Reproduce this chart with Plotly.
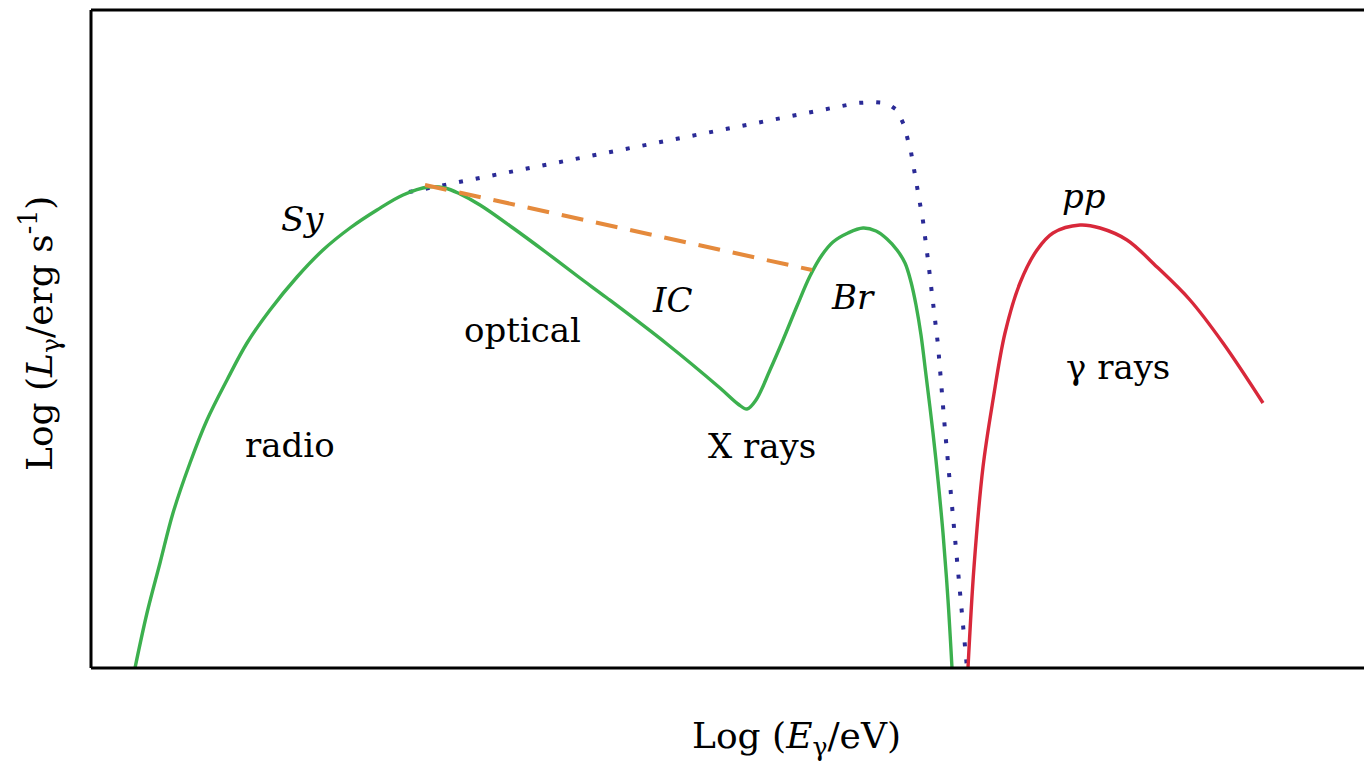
import plotly.graph_objects as go

# ---- data (arbitrary log units) ----
sy_x = [0.44, 0.56, 0.69, 0.82, 0.99, 1.16, 1.36, 1.56, 1.79, 2.06, 2.32, 2.59, 2.86, 3.12, 3.37,
        3.54, 3.69, 3.89, 4.22, 4.56, 4.89, 5.16, 5.76, 6.29, 6.47, 6.56, 6.65, 6.79, 6.92, 7.06,
        7.19, 7.31, 7.42, 7.57, 7.72, 7.85, 7.96, 8.06, 8.14, 8.20, 8.25, 8.30, 8.35, 8.42, 8.47,
        8.52, 8.57, 8.61]
sy_y = [0.00, 0.55, 1.05, 1.55, 2.05, 2.48, 2.88, 3.25, 3.58, 3.91, 4.18, 4.40, 4.58, 4.73, 4.81,
        4.80, 4.74, 4.63, 4.40, 4.15, 3.90, 3.70, 3.24, 2.80, 2.64, 2.59, 2.68, 2.98, 3.28, 3.62,
        3.92, 4.13, 4.26, 4.35, 4.40, 4.37, 4.29, 4.18, 4.05, 3.86, 3.63, 3.33, 2.93, 2.35, 1.88,
        1.35, 0.68, 0.00]

dot_x = [3.18, 7.49, 7.66, 7.83, 7.96, 8.06, 8.13, 8.20, 8.26, 8.32, 8.37, 8.42, 8.47, 8.54, 8.59,
         8.64, 8.69, 8.74, 8.76]
dot_y = [4.76, 5.62, 5.65, 5.66, 5.65, 5.58, 5.43, 5.16, 4.82, 4.47, 4.08, 3.68, 3.23, 2.38, 1.86,
         1.35, 0.81, 0.28, 0.00]

ic_x = [3.34, 7.21]
ic_y = [4.83, 3.98]

pp_x = [8.77, 8.83, 8.92, 9.02, 9.14, 9.29, 9.46, 9.62, 9.89, 10.09, 10.36, 10.66, 10.99, 11.32, 11.72]
pp_y = [0.00, 1.01, 2.01, 2.68, 3.35, 3.85, 4.18, 4.35, 4.43, 4.40, 4.28, 4.01, 3.68, 3.25, 2.65]

label_text = ["<i>Sy</i>", "radio", "optical", "<i>IC</i>", "X rays", "<i>Br</i>", "<i>pp</i>", "γ rays"]
label_x = [2.11, 1.99, 4.31, 5.81, 6.71, 7.62, 9.93, 10.27]
label_y = [4.49, 2.23, 3.38, 3.68, 2.22, 3.71, 4.72, 3.01]

x_title = "Log (<i>E</i><sub>γ</sub>/eV)"
y_title = "Log (<i>L</i><sub>γ</sub>/erg s<sup>-1</sup>)"

FONT = "DejaVu Serif"

fig = go.Figure()
fig.add_trace(go.Scatter(x=dot_x, y=dot_y, mode="lines",
                         line=dict(color="#2a2a96", width=4, dash="4px,13px"),
                         showlegend=False, hoverinfo="skip"))
fig.add_trace(go.Scatter(x=sy_x, y=sy_y, mode="lines",
                         line=dict(color="#3cb04e", width=3.4, shape="spline", smoothing=1.0),
                         showlegend=False, hoverinfo="skip"))
fig.add_trace(go.Scatter(x=ic_x, y=ic_y, mode="lines",
                         line=dict(color="#e58a3c", width=4, dash="22px,13px"),
                         showlegend=False, hoverinfo="skip"))
fig.add_trace(go.Scatter(x=pp_x, y=pp_y, mode="lines",
                         line=dict(color="#d8283a", width=3.4, shape="spline", smoothing=1.0),
                         showlegend=False, hoverinfo="skip"))

for t, x, y in zip(label_text, label_x, label_y):
    fig.add_annotation(x=x, y=y, text=t, showarrow=False,
                       font=dict(family=FONT, size=34, color="black"),
                       xanchor="center", yanchor="middle")

fig.add_annotation(xref="paper", yref="paper", x=0.554, y=0, yshift=-70, text=x_title,
                   showarrow=False, font=dict(family=FONT, size=36, color="black"),
                   xanchor="center", yanchor="middle")
fig.add_annotation(xref="paper", yref="paper", x=0, y=0.5, xshift=-51, yshift=5, text=y_title,
                   textangle=-90, showarrow=False, font=dict(family=FONT, size=36, color="black"),
                   xanchor="center", yanchor="middle")

# frame: left, top, bottom (right edge is cut off in the original)
for x0, y0, x1, y1 in [(0, 0, 0, 1), (0, 1, 1, 1), (0, 0, 1, 0)]:
    fig.add_shape(type="line", xref="paper", yref="paper", x0=x0, y0=y0, x1=x1, y1=y1,
                  line=dict(color="black", width=3), layer="above")

fig.update_xaxes(range=[0, 12.73], showgrid=False, zeroline=False, showticklabels=False,
                 ticks="", showline=False)
fig.update_yaxes(range=[0, 6.58], showgrid=False, zeroline=False, showticklabels=False,
                 ticks="", showline=False)
fig.update_layout(width=1364, height=768, margin=dict(l=91, r=0, t=10, b=100),
                  plot_bgcolor="white", paper_bgcolor="white")

fig.write_html("out.html")
